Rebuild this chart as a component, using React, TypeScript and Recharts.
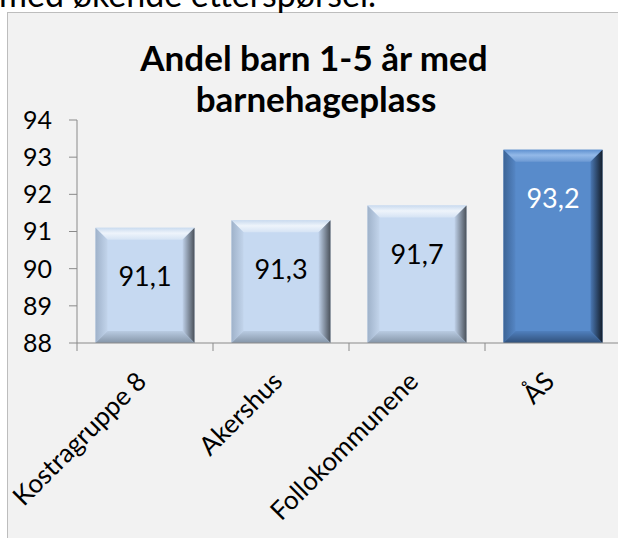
import { Bar, BarChart, LabelList, XAxis, YAxis } from "recharts";

const categories = ["Kostragruppe 8", "Akershus", "Follokommunene", "ÅS"];
const values = [91.1, 91.3, 91.7, 93.2];
const highlighted = [false, false, false, true];
const yTicks = [88, 89, 90, 91, 92, 93, 94];

const FONT = "Lato, 'Open Sans', sans-serif";
const AXIS = "#8a8a8a";
const PLOT_W = 544;
const BAND = PLOT_W / categories.length;

const LIGHT = {
  main: "#c6d9f1",
  top: ["#cadbef", "#eef4fb", "#d5e3f4"],
  left: ["#9fb2ca", "#c2d4eb"],
  right: ["#c0d2ea", "#4a515a"],
  bottom: ["#b9cbe2", "#8595a8"],
  text: "#000",
};
const DARK = {
  main: "#588bcb",
  top: ["#5f91d0", "#93b9e8", "#6d9ad4"],
  left: ["#3c6496", "#5586c5"],
  right: ["#4b79b5", "#141e2b"],
  bottom: ["#5080be", "#30507a"],
  text: "#fff",
};

const data = categories.map((name, i) => ({
  name,
  value: values[i],
  highlight: highlighted[i],
}));

function BevelBar(props: any) {
  const { x, y, width: w, height: h, index, payload } = props;
  const p = payload.highlight ? DARK : LIGHT;
  const b = Math.min(12, w / 2, h / 2);
  const id = `bev${index}`;
  return (
    <g>
      <defs>
        <linearGradient id={`${id}t`} x1="0" y1="0" x2="0" y2="1">
          <stop offset="0%" stopColor={p.top[0]} />
          <stop offset="45%" stopColor={p.top[1]} />
          <stop offset="100%" stopColor={p.top[2]} />
        </linearGradient>
        <linearGradient id={`${id}l`} x1="0" y1="0" x2="1" y2="0">
          <stop offset="0%" stopColor={p.left[0]} />
          <stop offset="100%" stopColor={p.left[1]} />
        </linearGradient>
        <linearGradient id={`${id}r`} x1="0" y1="0" x2="1" y2="0">
          <stop offset="0%" stopColor={p.right[0]} />
          <stop offset="100%" stopColor={p.right[1]} />
        </linearGradient>
        <linearGradient id={`${id}b`} x1="0" y1="0" x2="0" y2="1">
          <stop offset="0%" stopColor={p.bottom[0]} />
          <stop offset="100%" stopColor={p.bottom[1]} />
        </linearGradient>
      </defs>
      <rect x={x} y={y} width={w} height={h} fill={p.main} />
      <polygon
        points={`${x},${y} ${x + w},${y} ${x + w - b},${y + b} ${x + b},${y + b}`}
        fill={`url(#${id}t)`}
      />
      <polygon
        points={`${x},${y} ${x + b},${y + b} ${x + b},${y + h - b} ${x},${y + h}`}
        fill={`url(#${id}l)`}
      />
      <polygon
        points={`${x + w},${y} ${x + w},${y + h} ${x + w - b},${y + h - b} ${x + w - b},${y + b}`}
        fill={`url(#${id}r)`}
      />
      <polygon
        points={`${x},${y + h} ${x + w},${y + h} ${x + w - b},${y + h - b} ${x + b},${y + h - b}`}
        fill={`url(#${id}b)`}
      />
    </g>
  );
}

function ValueLabel(props: any) {
  const { x, y, width, value, index } = props;
  const p = data[index]?.highlight ? DARK : LIGHT;
  return (
    <text
      x={x + width / 2}
      y={y + 48}
      textAnchor="middle"
      dominantBaseline="central"
      fontSize={27}
      fontFamily={FONT}
      fill={p.text}
    >
      {Number(value).toFixed(1).replace(".", ",")}
    </text>
  );
}

function CategoryTick(props: any) {
  const { x, y, payload } = props;
  const ax = x + 3;
  const ay = y + 40;
  return (
    <g>
      <line x1={x - BAND / 2} y1={y} x2={x - BAND / 2} y2={y + 8} stroke={AXIS} />
      <text
        x={ax}
        y={ay}
        transform={`rotate(-45 ${ax} ${ay})`}
        textAnchor="end"
        fontSize={26}
        fontFamily={FONT}
        fill="#000"
      >
        {payload.value}
      </text>
    </g>
  );
}

export default function App() {
  return (
    <div
      style={{
        position: "absolute",
        left: 0,
        top: 0,
        width: 618,
        height: 538,
        overflow: "hidden",
        background: "#fff",
      }}
    >
      <div
        style={{
          position: "absolute",
          left: 7,
          top: 12,
          width: 700,
          height: 600,
          border: "1px solid #bdbdbd",
          background: "#f2f2f2",
        }}
      />
      <div style={{ position: "absolute", left: 0, top: 0 }}>
        <BarChart
          width={640}
          height={538}
          data={data}
          margin={{ top: 120, right: 19, bottom: 0, left: 0 }}
          barCategoryGap="13.6%"
        >
          <XAxis
            dataKey="name"
            height={195}
            axisLine={{ stroke: AXIS }}
            tickLine={false}
            tickSize={0}
            tickMargin={0}
            interval={0}
            tick={<CategoryTick />}
          />
          <YAxis
            width={77}
            domain={[88, 94]}
            ticks={yTicks}
            interval={0}
            axisLine={{ stroke: AXIS }}
            tickLine={{ stroke: AXIS }}
            tickSize={8}
            tickMargin={17}
            tick={{ fontSize: 25, fill: "#000", fontFamily: FONT }}
          />
          <Bar dataKey="value" shape={<BevelBar />} isAnimationActive={false}>
            <LabelList dataKey="value" content={<ValueLabel />} />
          </Bar>
        </BarChart>
      </div>
      <svg
        width={618}
        height={538}
        style={{ position: "absolute", left: 0, top: 0, pointerEvents: "none" }}
      >
        <text x={-1} y={7} fontSize={34} fontFamily={FONT} fill="#000">
          med økende etterspørsel.
        </text>
        <text
          x={314}
          y={71}
          textAnchor="middle"
          fontSize={35}
          fontWeight="bold"
          fontFamily={FONT}
          fill="#000"
        >
          Andel barn 1-5 år med
        </text>
        <text
          x={316}
          y={112}
          textAnchor="middle"
          fontSize={35}
          fontWeight="bold"
          fontFamily={FONT}
          fill="#000"
        >
          barnehageplass
        </text>
      </svg>
    </div>
  );
}
